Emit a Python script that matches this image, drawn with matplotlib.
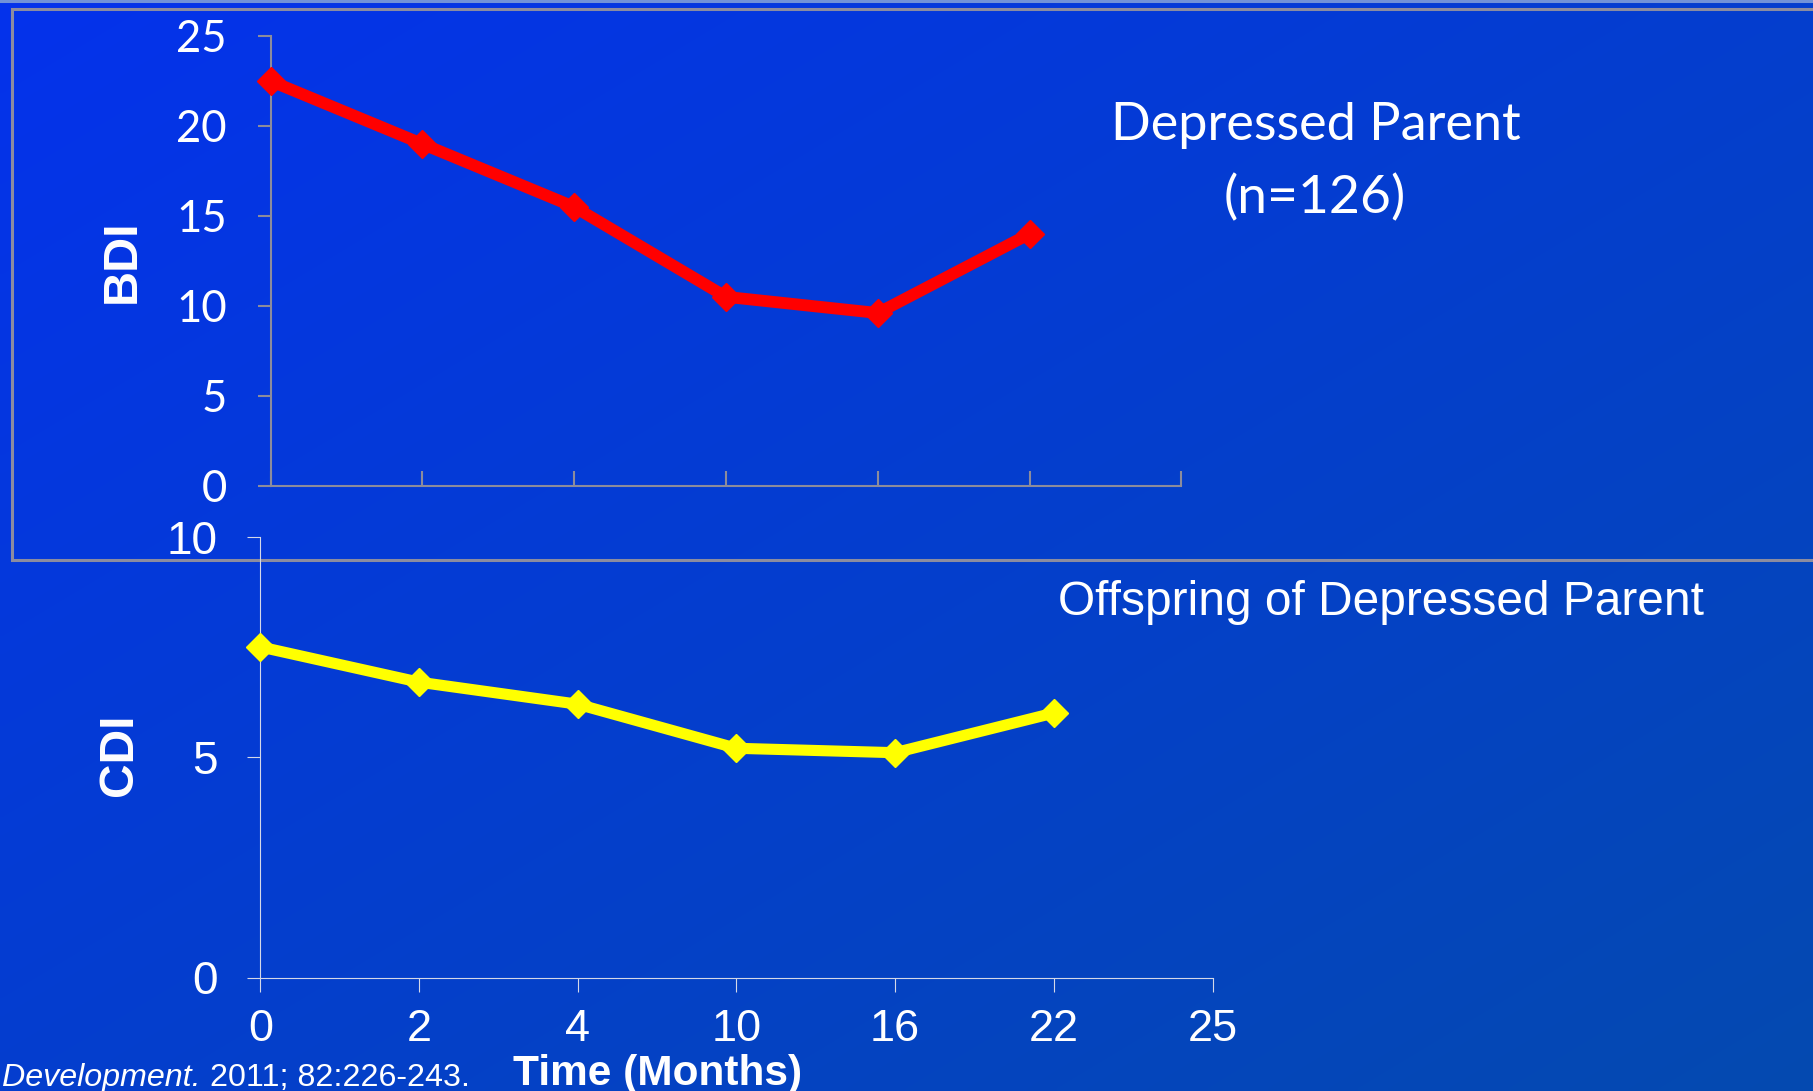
import numpy as np
import matplotlib
matplotlib.use("Agg")
import matplotlib.pyplot as plt
from matplotlib.lines import Line2D

# ---- data -------------------------------------------------------------
months = ["0", "2", "4", "10", "16", "22", "25"]
bdi = [22.5, 19.0, 15.5, 10.5, 9.6, 14.0]      # depressed parent (BDI)
cdi = [7.5, 6.7, 6.2, 5.2, 5.1, 6.0]           # offspring (CDI)
bdi_ticks = [0, 5, 10, 15, 20, 25]
cdi_ticks = [0, 5, 10]

plt.rcParams["font.family"] = ["Liberation Sans", "DejaVu Sans"]

W, H, DPI = 1813, 1091, 100
fig = plt.figure(figsize=(W / DPI, H / DPI), dpi=DPI)

# ---- slide background: diagonal blue gradient ---------------------------
bg = fig.add_axes([0, 0, 1, 1], zorder=-10)
yy, xx = np.mgrid[0:1:200j, 0:1:300j]
t = 0.5 * xx + 0.5 * yy
c0 = np.array([4, 50, 236]) / 255.0
c1 = np.array([5, 74, 176]) / 255.0
img = c0 + (c1 - c0) * t[..., None]
bg.imshow(img, extent=(0, W, H, 0), aspect="auto", interpolation="bilinear")
bg.set_xlim(0, W)
bg.set_ylim(H, 0)
bg.axis("off")
bg.add_line(Line2D([0, W], [1, 1], color="#7292d8", lw=2.2))
bg.add_line(Line2D([W + 10, 11.5, 11.5, W + 10], [8.5, 8.5, 559.5, 559.5],
                   color="#8c8ca0", lw=2.2, solid_joinstyle="miter"))

GRAY = "#8c8c9c"
LIGHT = "#d4d8e8"
x = np.arange(len(bdi))

# ---- upper panel: BDI ---------------------------------------------------
ax1 = fig.add_axes([270.5 / W, 1 - 485.7 / H, 910.9 / W, 449.7 / H])
ax1.set_facecolor("none")
ax1.plot(x, bdi, color="#ff0000", lw=8.5, marker="D", ms=14.5,
         mec="#ff0000", mew=1, clip_on=False, zorder=5)
ax1.set_xlim(0, len(months) - 1)
ax1.set_ylim(0, 25)
ax1.set_yticks(bdi_ticks)
ax1.set_xticks(range(len(months)))
ax1.set_xticklabels([])
for s in ("top", "right"):
    ax1.spines[s].set_visible(False)
for s in ("left", "bottom"):
    ax1.spines[s].set_color(GRAY)
    ax1.spines[s].set_linewidth(1.5)
ax1.tick_params(axis="y", direction="out", length=9.4, width=1.5, color=GRAY,
                pad=22, labelsize=31.5, labelcolor="white")
ax1.tick_params(axis="x", direction="in", length=10.8, width=1.5, color=GRAY)
for lab in ax1.get_yticklabels():
    lab.set_fontfamily("Lato")

# ---- lower panel: CDI ---------------------------------------------------
ax2 = fig.add_axes([260.3 / W, 1 - 977.5 / H, 952.2 / W, 440.8 / H])
ax2.set_facecolor("none")
ax2.plot(x, cdi, color="#ffff00", lw=8.0, marker="D", ms=14,
         mec="#ffff00", mew=1, clip_on=False, zorder=5)
ax2.set_xlim(0, len(months) - 1)
ax2.set_ylim(0, 10)
ax2.set_yticks(cdi_ticks)
ax2.set_xticks(range(len(months)))
ax2.set_xticklabels(months)
for s in ("top", "right"):
    ax2.spines[s].set_visible(False)
for s in ("left", "bottom"):
    ax2.spines[s].set_color(LIGHT)
    ax2.spines[s].set_linewidth(0.8)
ax2.tick_params(axis="y", direction="out", length=9.4, width=0.8, color=LIGHT,
                pad=21.5, labelsize=33, labelcolor="white")
ax2.tick_params(axis="x", direction="out", length=10, width=0.8, color=LIGHT,
                pad=13, labelsize=32.5, labelcolor="white")

# ---- axis titles --------------------------------------------------------
fig.text(122.5 / W, 1 - 261 / H, "BDI", rotation=90, ha="center", va="center",
         fontsize=35, fontweight="bold", color="white")
fig.text(120 / W, 1 - 755 / H, "CDI", rotation=90, ha="center", va="center",
         fontsize=34.5, fontweight="bold", color="white")
fig.text(657.5 / W, 1 - 1084.5 / H, "Time (Months)", ha="center",
         va="baseline", fontsize=30.5, fontweight="bold", color="white")

# ---- panel captions -----------------------------------------------------
fig.text(1315.5 / W, 1 - 140 / H, "Depressed Parent", ha="center",
         va="baseline", fontsize=37.6, color="white", family="Lato")
fig.text(1315 / W, 1 - 213 / H, "(n=126)", ha="center", va="baseline",
         fontsize=38.5, color="white", family="Lato")
fig.text(1381 / W, 1 - 615 / H, "Offspring of Depressed Parent", ha="center",
         va="baseline", fontsize=34.5, color="white")

# ---- citation -----------------------------------------------------------
CITE_SIZE = 23.2
cite1 = fig.text(2 / W, 1 - 1086 / H, "Development.", ha="left",
                 va="baseline", fontsize=CITE_SIZE, fontstyle="italic",
                 color="white")
fig.canvas.draw()
bb = cite1.get_window_extent()
fig.text(bb.x1 / W, 1 - 1086 / H, " 2011; 82:226-243.", ha="left",
         va="baseline", fontsize=CITE_SIZE, color="white")

fig.savefig("out.png", dpi=DPI)
